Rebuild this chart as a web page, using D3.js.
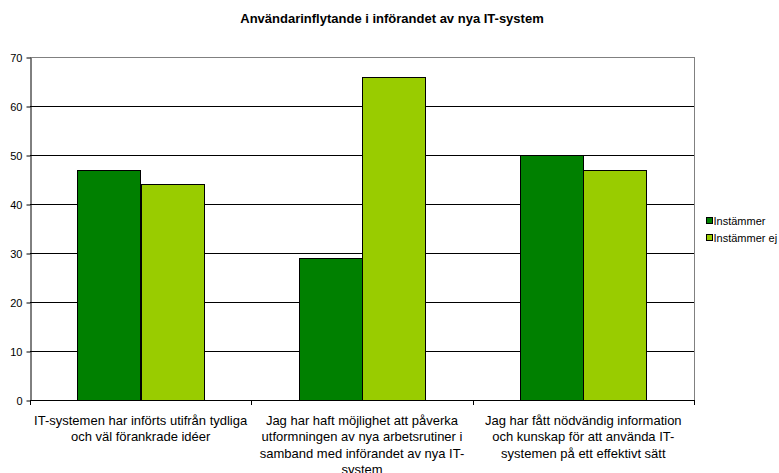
<!DOCTYPE html>
<html><head><meta charset="utf-8">
<script src="https://cdn.jsdelivr.net/npm/d3@7"></script>
<style>body{margin:0;background:#fff}svg{display:block}text{font-family:"Liberation Sans",Arial,sans-serif;fill:#000}</style>
</head><body>
<svg id="c" width="779" height="473"></svg>
<script>
const title = "Användarinflytande i införandet av nya IT-system";
const categories = [
  ["IT-systemen har införts utifrån tydliga", "och väl förankrade idéer"],
  ["Jag har haft möjlighet att påverka", "utformningen av nya arbetsrutiner i", "samband med införandet av nya IT-", "system"],
  ["Jag har fått nödvändig information", "och kunskap för att använda IT-", "systemen på ett effektivt sätt"]
];
const seriesNames = ["Instämmer", "Instämmer ej"];
const instammer = [47, 29, 50];
const instammerEj = [44, 66, 47];
const yTicks = [0, 10, 20, 30, 40, 50, 60, 70];
const colors = ["#008000", "#99CC00"];

const svg = d3.select("#c");
const L = 30, R = 694, T = 57, B = 400;
const x = d3.scaleBand().domain(d3.range(categories.length)).range([L, R]).paddingInner(0).paddingOuter(0);
const y = d3.scaleLinear().domain([0, 70]).range([B, T]);
const gap = 1.5;
const bw = x.bandwidth() / (2 + gap);

// title
svg.append("text").attr("x", 392).attr("y", 23).attr("text-anchor", "middle")
  .attr("font-size", 13).attr("font-weight", "bold").text(title);

// gridlines
svg.append("g").selectAll("line").data(yTicks.filter(d => d > 0)).join("line")
  .attr("x1", L).attr("x2", R)
  .attr("y1", d => Math.round(y(d)) + 0.5).attr("y2", d => Math.round(y(d)) + 0.5)
  .attr("stroke", d => d === 70 ? "#808080" : "#000").attr("stroke-width", 1);
// right border
svg.append("line").attr("x1", R + 0.5).attr("x2", R + 0.5).attr("y1", T).attr("y2", B)
  .attr("stroke", "#808080");

// bars
const data = [instammer, instammerEj];
data.forEach((vals, s) => {
  svg.append("g").selectAll("rect").data(vals).join("rect")
    .attr("x", (d, i) => Math.round(x(i) + bw * gap / 2 + s * bw) + 0.5)
    .attr("width", Math.round(bw))
    .attr("y", d => Math.round(y(d)) + 0.5)
    .attr("height", d => Math.round(B - y(d)))
    .attr("fill", colors[s]).attr("stroke", "#000").attr("stroke-width", 1);
});

// y axis
const ya = svg.append("g").attr("transform", `translate(${L + 0.5},0.5)`)
  .call(d3.axisLeft(y).tickValues(yTicks).tickSize(4).tickPadding(4).tickSizeOuter(0));
ya.select(".domain").attr("stroke", "#000");
ya.selectAll("text").attr("font-size", 11).attr("fill", "#000").style("font-family", '"Liberation Sans",Arial,sans-serif');
ya.selectAll(".tick line").attr("stroke", "#000");

// x axis
svg.append("line").attr("x1", L).attr("x2", R + 1).attr("y1", B + 0.5).attr("y2", B + 0.5).attr("stroke", "#000");
const bounds = d3.range(categories.length + 1).map(i => i < categories.length ? x(i) : R);
svg.append("g").selectAll("line").data(bounds).join("line")
  .attr("x1", d => Math.round(d) + 0.5).attr("x2", d => Math.round(d) + 0.5)
  .attr("y1", B).attr("y2", B + 5).attr("stroke", "#000");

// category labels
categories.forEach((lines, i) => {
  const t = svg.append("text").attr("text-anchor", "middle").attr("font-size", 13)
    .attr("x", x(i) + x.bandwidth() / 2).attr("y", 425);
  lines.forEach((ln, k) => t.append("tspan").attr("x", x(i) + x.bandwidth() / 2).attr("dy", k === 0 ? 0 : 16.3).text(ln));
});

// legend
seriesNames.forEach((n, s) => {
  const yy = 221 + s * 17;
  svg.append("rect").attr("x", 706.5).attr("y", yy - 3.5).attr("width", 6).attr("height", 6)
    .attr("fill", colors[s]).attr("stroke", "#000");
  svg.append("text").attr("x", 713.5).attr("y", yy + 4).attr("font-size", 11).text(n);
});
</script>
</body></html>
